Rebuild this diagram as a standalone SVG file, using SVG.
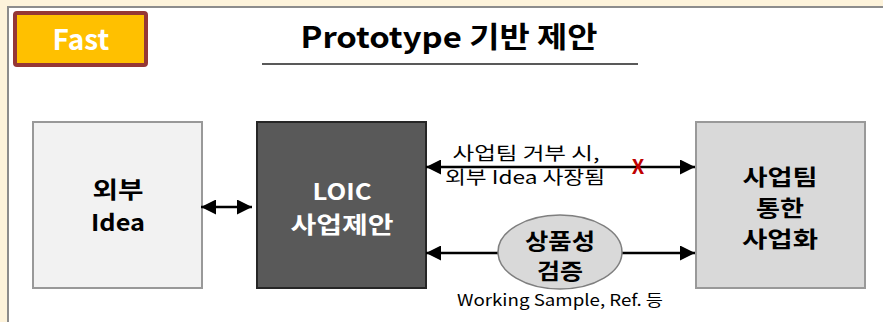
<svg xmlns="http://www.w3.org/2000/svg" width="883" height="322" viewBox="0 0 883 322">
<defs>
<style>
text{font-family:"Noto Sans CJK KR","Noto Sans",sans-serif;text-anchor:middle}
.b{font-weight:bold}
.box{stroke-width:2}
.ln{stroke:#000;stroke-width:2.5;fill:none}
</style>
<marker id="ah" viewBox="0 0 10 10" refX="10" refY="5" markerWidth="7" markerHeight="6" markerUnits="strokeWidth" orient="auto-start-reverse">
<path d="M0,0L10,5L0,10Z" fill="#000"/>
</marker>
</defs>
<rect x="0" y="0" width="883" height="322" fill="#FDF3DB"/>
<rect x="8" y="7" width="890" height="330" fill="#fff" stroke="#8c8c8c" stroke-width="2"/>
<g id="badge">
<rect x="15" y="13" width="131" height="52" fill="#FFC000" stroke="#953735" stroke-width="4" rx="2"/>
<text x="81" y="50" class="b" font-size="28" fill="#fff">Fast</text>
</g>
<g id="title">
<text x="449" y="48" class="b" font-size="29" fill="#000" textLength="297" lengthAdjust="spacingAndGlyphs">Prototype 기반 제안</text>
<line x1="262" y1="64" x2="638" y2="64" stroke="#595959" stroke-width="2"/>
</g>
<g id="n1">
<rect class="box" x="33" y="122" width="169" height="166" fill="#F2F2F2" stroke="#999"/>
<text x="118" y="198" class="b" font-size="23" textLength="51" lengthAdjust="spacingAndGlyphs">외부</text>
<text x="118" y="231" class="b" font-size="23" textLength="54" lengthAdjust="spacingAndGlyphs">Idea</text>
</g>
<g id="n2">
<rect class="box" x="257" y="122" width="169" height="166" fill="#595959" stroke="#262626"/>
<text x="342" y="200" class="b" font-size="23" fill="#fff" textLength="59" lengthAdjust="spacingAndGlyphs">LOIC</text>
<text x="342" y="233" class="b" font-size="23" fill="#fff" textLength="103" lengthAdjust="spacingAndGlyphs">사업제안</text>
</g>
<g id="n3">
<rect class="box" x="696" y="122" width="169" height="166" fill="#D9D9D9" stroke="#999"/>
<text x="780" y="185" class="b" font-size="22" textLength="75" lengthAdjust="spacingAndGlyphs">사업팀</text>
<text x="780" y="216" class="b" font-size="22" textLength="48" lengthAdjust="spacingAndGlyphs">통한</text>
<text x="780" y="247" class="b" font-size="22" textLength="76" lengthAdjust="spacingAndGlyphs">사업화</text>
</g>
<g id="connectors">
<line class="ln" x1="201" y1="207" x2="252" y2="207" marker-start="url(#ah)" marker-end="url(#ah)"/>
<line class="ln" x1="426" y1="167" x2="695" y2="167" marker-start="url(#ah)" marker-end="url(#ah)"/>
<line class="ln" x1="426" y1="253" x2="695" y2="253" marker-start="url(#ah)" marker-end="url(#ah)"/>
<text x="526" y="160" font-size="18" textLength="147" lengthAdjust="spacingAndGlyphs">사업팀 거부 시,</text>
<text x="525" y="184" font-size="18" textLength="160" lengthAdjust="spacingAndGlyphs">외부 Idea 사장됨</text>
<text x="638" y="174" class="b" font-size="20" fill="#C00000">X</text>
</g>
<g id="n4">
<ellipse cx="560" cy="252" rx="62" ry="37" fill="#D9D9D9" stroke="#7f7f7f" stroke-width="1.5"/>
<text x="560" y="249" class="b" font-size="22" textLength="70" lengthAdjust="spacingAndGlyphs">상품성</text>
<text x="560" y="279" class="b" font-size="22" textLength="46" lengthAdjust="spacingAndGlyphs">검증</text>
</g>
<text x="560" y="306" font-size="16" textLength="206" lengthAdjust="spacingAndGlyphs">Working Sample, Ref. 등</text>
</svg>
